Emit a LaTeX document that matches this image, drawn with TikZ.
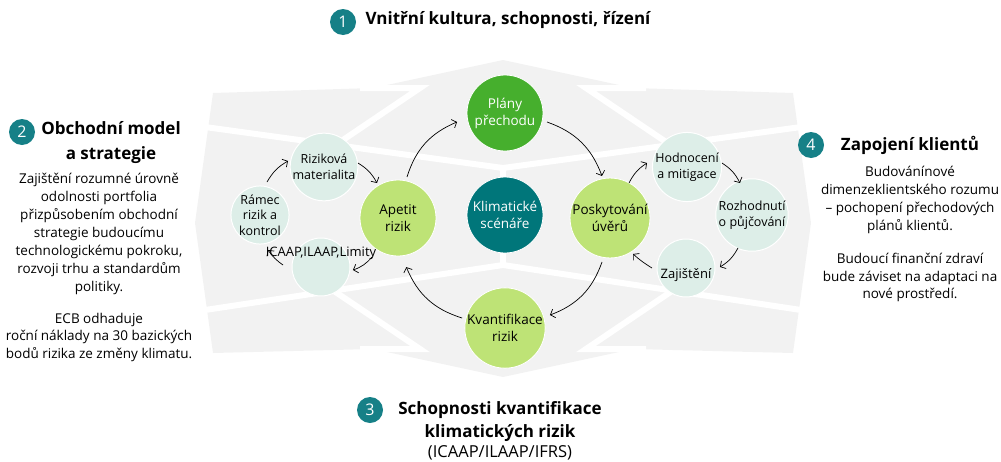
\documentclass[tikz,border=0pt]{standalone}
\usepackage{fontspec}
\setmainfont{Open Sans}
\usetikzlibrary{arrows.meta,calc}
\definecolor{bggrey}{RGB}{242,242,242}
\definecolor{badgeteal}{RGB}{22,128,135}
\definecolor{centerteal}{RGB}{0,118,122}
\definecolor{darkgreen}{RGB}{70,175,45}
\definecolor{lightgreen}{RGB}{190,227,118}
\definecolor{mint}{RGB}{221,238,232}
\tikzset{
  bigc/.style={circle, minimum size=76pt, inner sep=0pt, align=center, draw=white, line width=0.8pt,
    font=\fontsize{13.5}{17}\selectfont},
  smallc/.style={circle, minimum size=58pt, inner sep=0pt, align=center, fill=mint, draw=white, line width=1pt,
    font=\fontsize{12.5}{15.5}\selectfont},
  badge/.style={circle, fill=badgeteal, text=white, minimum size=26pt, inner sep=0pt,
    font=\fontsize{16}{16}\selectfont},
  heading/.style={inner sep=0pt, align=center, font=\fontsize{17}{25}\selectfont\bfseries},
  para/.style={inner sep=0pt, align=center, font=\fontsize{13.5}{18}\selectfont},
  lbl/.style={inner sep=0pt, font=\fontsize{13}{15}\selectfont},
  cyc/.style={-{Straight Barb[length=4pt,width=9pt]}, line width=0.7pt, black},
  gap/.style={white, line width=6pt}
}
\begin{document}
\begin{tikzpicture}[x=1pt,y=1pt]
\useasboundingbox (0,0) rectangle (1001,-461);
% background star of four arrows
\fill[bggrey] (195,-223) -- (213,-93) -- (373,-88) -- (503,-60) -- (633,-88) -- (793,-93)
  -- (811,-223) -- (793,-353) -- (633,-349) -- (503,-377) -- (373,-349) -- (213,-353) -- cycle;
\coordinate (jtl) at (intersection of 205,-127--503,-168 and 420,-88--337,-144);
\coordinate (jtr) at (intersection of 801,-127--503,-168 and 586,-88--669,-144);
\coordinate (jbl) at (intersection of 205,-310--503,-265 and 420,-349--337,-293);
\coordinate (jbr) at (intersection of 801,-310--503,-265 and 586,-349--669,-293);
\draw[gap] (360,-88) -- (420,-88) -- (jtl);
\draw[gap] (646,-88) -- (586,-88) -- (jtr);
\draw[gap] (360,-349) -- (420,-349) -- (jbl);
\draw[gap] (646,-349) -- (586,-349) -- (jbr);
\draw[gap] (205,-127) -- (503,-168) -- (801,-127);
\draw[gap] (205,-310) -- (503,-265) -- (801,-310);
\draw[gap] (503,-168) -- (503,-265);

% main circles
\node[bigc, fill=darkgreen, text=white] (plany) at (505,-113) {Plány\\přechodu};
\node[bigc, fill=centerteal, text=white] (klima) at (505,-215) {Klimatické\\scénáře};
\node[bigc, fill=lightgreen] (apetit) at (398,-218) {Apetit\\rizik};
\node[bigc, fill=lightgreen] (poskyt) at (610,-218) {Poskytování\\úvěrů};
\node[bigc, fill=lightgreen] (kvant) at (505,-328) {Kvantifikace\\rizik};

% small circles
\node[smallc] (riz) at (324,-167) {Riziková\\materialita};
\node[smallc] (ramec) at (260,-215) {Rámec\\rizik a\\kontrol};
\node[smallc] (icaap) at (321,-267) {};
\node[smallc] (hodn) at (687,-167) {Hodnocení\\a mitigace};
\node[smallc] (rozh) at (752,-215) {Rozhodnutí\\o půjčování};
\node[smallc] (zaj) at (686,-268) {};

% main cycle
\draw[cyc] ($(apetit)+(77.6:42)$) to[bend left=25] ($(plany)+(190.6:48.8)$);
\draw[cyc] ($(plany)+(-12.1:43)$) to[bend left=25] ($(poskyt)+(100.8:42.8)$);
\draw[cyc] ($(poskyt)+(259.7:44.7)$) to[bend left=25] ($(kvant)+(16.1:46.8)$);
\draw[cyc] ($(kvant)+(166.9:44)$) to[bend left=25] ($(apetit)+(279.6:49.8)$);
% left cycle
\draw[cyc] ($(ramec)+(78:33.7)$) to[bend left=15] ($(riz)+(170.5:36.5)$);
\draw[cyc] ($(riz)+(6.7:34.2)$) to[bend left=15] ($(apetit)+(121:40.8)$);
\draw[cyc] ($(apetit)+(236.3:46.9)$) to[bend left=15] ($(icaap)+(-5.4:32.1)$);
\draw[cyc] ($(icaap)+(177:38)$) to[bend left=10] ($(ramec)+(-77.1:35.9)$);
% right cycle
\draw[cyc] ($(poskyt)+(61.5:39.8)$) to[bend left=15] ($(hodn)+(174.3:40.2)$);
\draw[cyc] ($(hodn)+(6.5:35.2)$) to[bend left=15] ($(rozh)+(110.6:34.2)$);
\draw[cyc] ($(rozh)+(247:35.8)$) to[bend left=15] ($(zaj)+(1.7:34)$);
\draw[cyc] ($(zaj)+(180:34)$) to[bend left=5] ($(poskyt)+(-57.4:42.7)$);

\node[lbl] (icaaplbl) at (321,-253) {ICAAP,ILAAP,Limity};
\node[lbl] (zajlbl) at (686,-275) {Zajištění};

% section 1
\node[badge] (b1) at (343,-22) {1};
\node[heading] (h1) at (508,-20) {Vnitřní kultura, schopnosti, řízení};
% section 2
\node[badge] (b2) at (22,-132) {2};
\node[heading] (h2) at (111,-142.5) {Obchodní model\\a strategie};
\node[para] (p2a) at (99,-234) {Zajištění rozumné úrovně\\odolnosti portfolia\\přizpůsobením obchodní\\strategie budoucímu\\technologickému pokroku,\\rozvoji trhu a standardům\\politiky.};
\node[para, font=\fontsize{13.5}{17.5}\selectfont] (p2b) at (99,-337) {ECB odhaduje\\roční náklady na 30 bazických\\bodů rizika ze změny klimatu.};
% section 4
\node[badge] (b4) at (811,-145) {4};
\node[heading] (h4) at (910,-145) {Zapojení klientů};
\node[para] (p4a) at (910,-200) {Budovánínové\\dimenzeklientského rozumu\\– pochopení přechodových\\plánů klientů.};
\node[para, font=\fontsize{13.5}{17.5}\selectfont] (p4b) at (910,-277.5) {Budoucí finanční zdraví\\bude záviset na adaptaci na\\nové prostředí.};
% section 3
\node[badge] (b3) at (370,-410) {3};
\node[heading, font=\fontsize{17}{23}\selectfont\bfseries] (h3) at (500,-421.5) {Schopnosti kvantifikace\\klimatických rizik};
\node[para, font=\fontsize{16.5}{18}\selectfont] (p3) at (500,-453) {(ICAAP/ILAAP/IFRS)};
\end{tikzpicture}
\end{document}
